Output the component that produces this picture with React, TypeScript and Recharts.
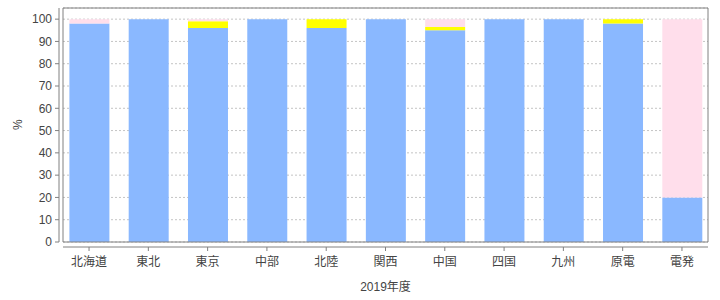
import { BarChart, Bar, XAxis, YAxis, CartesianGrid } from "recharts";

const categories = ["北海道", "東北", "東京", "中部", "北陸", "関西", "中国", "四国", "九州", "原電", "電発"];
const blueValues = [98, 100, 96, 100, 96, 100, 95, 100, 100, 98, 20];
const yellowValues = [0, 0, 3, 0, 4, 0, 1.5, 0, 0, 2, 0];
const pinkValues = [2, 0, 1, 0, 0, 0, 3.5, 0, 0, 0, 80];
const yTicks = [0, 10, 20, 30, 40, 50, 60, 70, 80, 90, 100];

const data = categories.map((name, i) => ({
  name,
  blue: blueValues[i],
  yellow: yellowValues[i],
  pink: pinkValues[i],
}));

const font = '"Liberation Sans", Arial, "Noto Sans CJK JP", sans-serif';
const axisColor = "#808080";
const textColor = "#444444";
const pad = { left: -3.6, right: -3.6 };

export default function App() {
  return (
    <div style={{ position: "absolute", left: 0, top: 0, width: 720, height: 300, background: "#fff" }}>
      <BarChart
        width={720}
        height={300}
        data={data}
        margin={{ top: 7, right: 11, bottom: 0, left: 0 }}
        style={{ fontFamily: font }}
      >
        <CartesianGrid xAxisId="main" yAxisId="main" vertical={false} stroke="#c4c4c4" strokeDasharray="2 2" />
        {/* plot border pieces */}
        <XAxis xAxisId="top" orientation="top" dataKey="name" height={1} tick={false} tickLine={false} axisLine={{ stroke: axisColor }} padding={pad} />
        <XAxis xAxisId="frame" dataKey="name" height={5} tick={false} tickLine={false} axisLine={{ stroke: axisColor }} padding={pad} />
        <XAxis
          xAxisId="main"
          dataKey="name"
          height={53}
          padding={pad}
          axisLine={{ stroke: axisColor }}
          tickLine={{ stroke: axisColor }}
          tickSize={4}
          tickMargin={6}
          tick={{ fontSize: 12, fill: textColor }}
          interval={0}
          label={{ value: "2019年度", position: "insideBottom", offset: 9, fontSize: 12, fill: textColor }}
        />
        <YAxis yAxisId="frame" width={4} tick={false} tickLine={false} axisLine={{ stroke: axisColor }} domain={[0, 105]} />
        <YAxis
          yAxisId="main"
          width={59}
          domain={[0, 105]}
          ticks={yTicks}
          interval={0}
          axisLine={{ stroke: axisColor }}
          tickLine={{ stroke: axisColor }}
          tickSize={4}
          tickMargin={3}
          tick={{ fontSize: 12, fill: textColor }}
          label={{ value: "%", angle: -90, position: "insideLeft", offset: 18, dy: 5, fontSize: 12, fill: textColor }}
        />
        <YAxis yAxisId="right" orientation="right" width={1} tick={false} tickLine={false} axisLine={{ stroke: axisColor }} domain={[0, 105]} />
        <Bar xAxisId="main" yAxisId="main" dataKey="blue" stackId="a" fill="#8ab8ff" barSize={40} isAnimationActive={false} />
        <Bar xAxisId="main" yAxisId="main" dataKey="yellow" stackId="a" fill="#ffff00" barSize={40} isAnimationActive={false} />
        <Bar xAxisId="main" yAxisId="main" dataKey="pink" stackId="a" fill="#ffdeeb" barSize={40} isAnimationActive={false} />
      </BarChart>
    </div>
  );
}
